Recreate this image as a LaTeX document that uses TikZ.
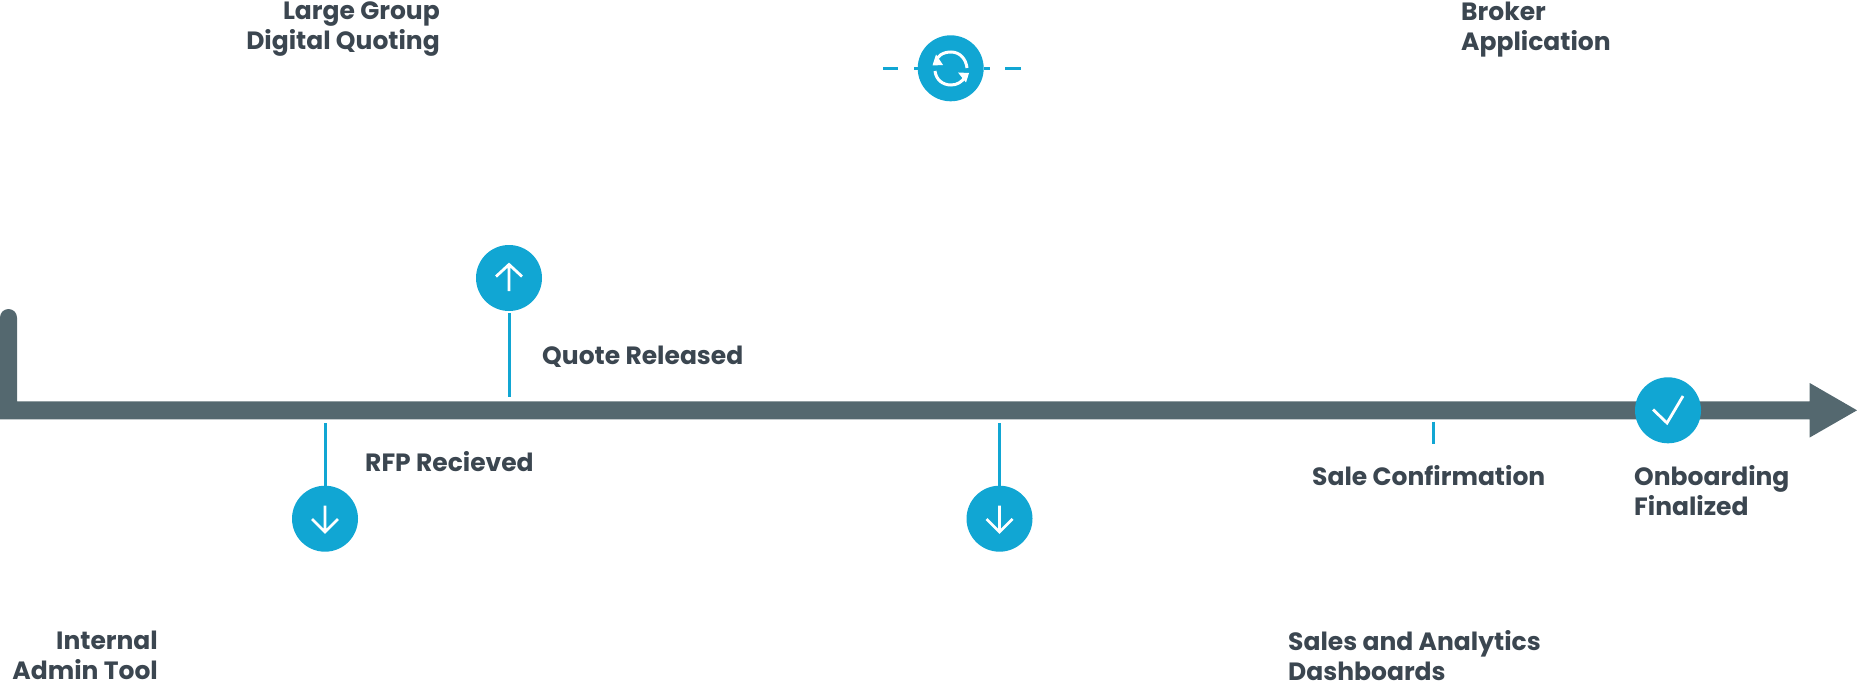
\documentclass[tikz,border=0pt]{standalone}
\usepackage{fontspec}
\setmainfont{Poppins Bold}
\definecolor{tlblue}{HTML}{11A6D3}
\definecolor{tlgray}{HTML}{54686F}
\definecolor{tltext}{HTML}{3B4650}
\tikzset{
  mark circle/.style={circle,fill=tlblue,minimum size=66pt,inner sep=0pt},
  stem/.style={draw=tlblue,line width=3pt},
  icon/.style={draw=white,line width=2.8pt},
  lbl/.style={text=tltext,font=\fontsize{25}{30}\selectfont,inner sep=0pt},
}
\begin{document}
\begin{tikzpicture}[x=1pt,y=-1pt]
\useasboundingbox (0,0) rectangle (1857,682);
% axis
\fill[tlgray] (0,419.3) -- (0,317.5) arc[start angle=180,end angle=0,x radius=8.5,y radius=-8.5] -- (17,401.3) -- (1809.7,401.3) -- (1809.7,383) -- (1857,410.3) -- (1809.7,437.5) -- (1809.7,419.3) -- cycle;
% markers
\node[mark circle] (up) at (509,278) {};
\node[mark circle] (dnA) at (325,518.7) {};
\node[mark circle] (dnB) at (999.5,518.7) {};
\node[mark circle] (ok) at (1668,410.3) {};
\node[mark circle] (sync) at (950.7,68.3) {};
% stems
\coordinate (upEnd) at (509,397);
\coordinate (dnAEnd) at (325,423);
\coordinate (dnBEnd) at (999.5,423);
\coordinate (saleA) at (1433.5,421.5);
\coordinate (saleB) at (1433.5,444);
\draw[stem,shorten <=2pt] (up) -- (upEnd);
\draw[stem] (dnA) -- (dnAEnd);
\draw[stem] (dnB) -- (dnBEnd);
\draw[stem] (saleA) -- (saleB);
\coordinate (dashA) at (883,68.3);
\coordinate (dashB) at (898,68.3);
\coordinate (dashC) at (914,68.3);
\coordinate (dashD) at (990,68.3);
\coordinate (dashE) at (1005,68.3);
\coordinate (dashF) at (1021,68.3);
\draw[stem] (dashA) -- (dashB);
\draw[stem] (dashC) -- (sync);
\draw[stem] (sync) -- (dashD);
\draw[stem] (dashE) -- (dashF);
% icons
\draw[icon] (509,291) -- (509,264.5) (496,276.5) -- (509,264.5) -- (522,276.5);
\draw[icon] (325,505.5) -- (325,532) (312,519) -- (325,532) -- (338,519);
\draw[icon] (999.5,505.5) -- (999.5,532) (986.5,519) -- (999.5,532) -- (1012.5,519);
\draw[icon] (1653,409.5) -- (1667,423) -- (1683,396);
\draw[icon,line width=3pt] (935,64) .. controls (936,56) and (943,52) .. (951,52) .. controls (960,52) and (966,59) .. (967,68);
\draw[icon,line width=3pt] (935,71) .. controls (936,80) and (943,85) .. (951,85) .. controls (957,85) and (962,82) .. (965,77);
\fill[white] (936,54.5) -- (932.5,65.5) -- (943,65) -- cycle;
\fill[white] (969,73) -- (958,72.5) -- (966,82.5) -- cycle;
% labels
\node[lbl,align=right,anchor=north east] (lgq) at (440,2) {Large Group\\Digital Quoting};
\node[lbl,align=left,anchor=north west] (ba) at (1461,2) {Broker\\Application};
\node[lbl,anchor=base west] (qr) at (542,364) {Quote Released};
\node[lbl,anchor=base west] (rfp) at (365,471) {RFP Recieved};
\node[lbl,anchor=base west] (sc) at (1312,485) {Sale Confirmation};
\node[lbl,align=left,anchor=north west] (of) at (1634,465) {Onboarding\\Finalized};
\node[lbl,align=right,anchor=north east] (iat) at (158,630.5) {Internal\\Admin Tool};
\node[lbl,align=left,anchor=north west] (sad) at (1288,630.5) {Sales and Analytics\\Dashboards};
\end{tikzpicture}
\end{document}
